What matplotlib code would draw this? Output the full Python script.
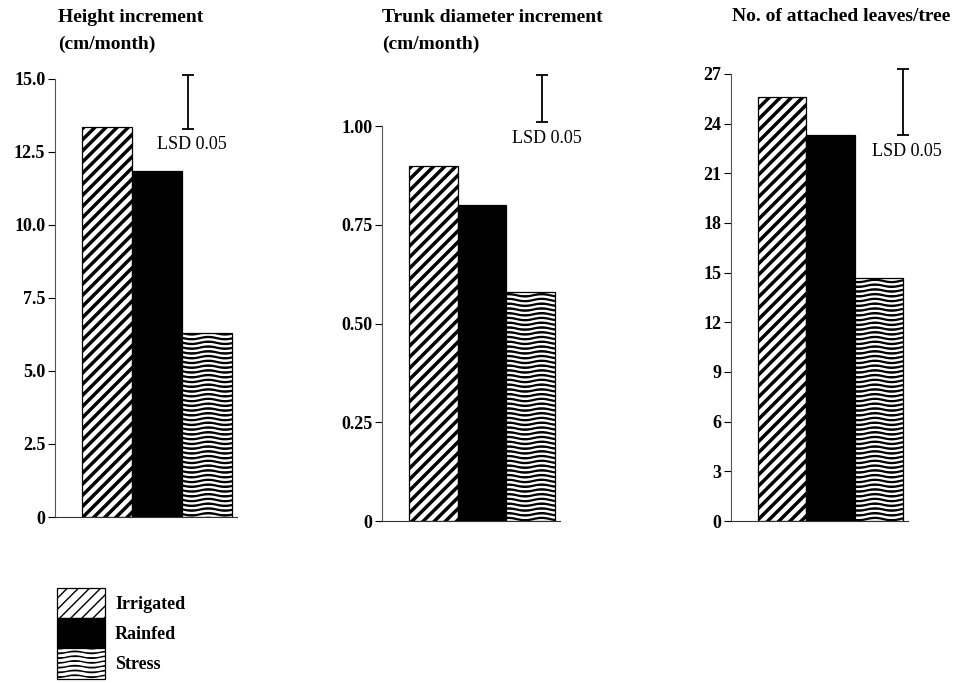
import warnings
import numpy as np
import matplotlib
matplotlib.use("Agg")
import matplotlib.pyplot as plt
from matplotlib import hatch as mhatch
from matplotlib.path import Path

warnings.filterwarnings("ignore", message=".*hatch must consist.*")

# ---------------------------------------------------------------- data
treatments = ["Irrigated", "Rainfed", "Stress"]

height_increment = [13.35, 11.85, 6.3]          # cm/month
trunk_increment = [0.90, 0.80, 0.58]            # cm/month
leaves_per_tree = [25.6, 23.3, 14.65]           # attached leaves/tree

panel_titles = ["Height increment\n(cm/month)",
                "Trunk diameter increment\n(cm/month)",
                "No. of attached leaves/tree"]

height_ticks = [0, 2.5, 5.0, 7.5, 10.0, 12.5, 15.0]
height_ticklabels = ["0", "2.5", "5.0", "7.5", "10.0", "12.5", "15.0"]
trunk_ticks = [0, 0.25, 0.50, 0.75, 1.00]
trunk_ticklabels = ["0", "0.25", "0.50", "0.75", "1.00"]
leaves_ticks = [0, 3, 6, 9, 12, 15, 18, 21, 24, 27]
leaves_ticklabels = ["0", "3", "6", "9", "12", "15", "18", "21", "24", "27"]

# least significant difference (P = 0.05) and the level where its bar starts
lsd_values = [1.85, 0.12, 4.0]
lsd_bottoms = [13.3, 1.01, 23.3]


# ------------------------------------------------- wavy hatch ('~')
class WaveHatch(mhatch.HatchPatternBase):
    """Horizontal wavy lines, selected with the '~' hatch character."""

    def __init__(self, hatch, density):
        self.num_lines = hatch.count("~") * 7
        self.num_steps = 40
        self.num_vertices = ((self.num_lines + 1) * self.num_steps
                             if self.num_lines else 0)

    def set_vertices_and_codes(self, vertices, codes):
        xs = np.linspace(0.0, 1.0, self.num_steps)
        k = 0
        for i in range(self.num_lines + 1):
            y0 = i / self.num_lines
            ys = y0 + 0.012 * np.sin(2 * np.pi * 3 * xs)
            vertices[k:k + self.num_steps, 0] = xs
            vertices[k:k + self.num_steps, 1] = ys
            codes[k] = Path.MOVETO
            codes[k + 1:k + self.num_steps] = Path.LINETO
            k += self.num_steps


mhatch._hatch_types.append(WaveHatch)

# ---------------------------------------------------------------- style
plt.rcParams["font.family"] = ["Liberation Serif", "DejaVu Serif"]
plt.rcParams["hatch.color"] = "black"

W, H = 963, 683
fig = plt.figure(figsize=(W / 100, H / 100), dpi=100)


def px_axes(left, right, bottom, top):
    return fig.add_axes([left / W, 1 - bottom / H,
                         (right - left) / W, (bottom - top) / H])


bar_styles = [
    dict(facecolor="white", hatch="///", hatch_lw=2.5),
    dict(facecolor="black", hatch=None, hatch_lw=1.0),
    dict(facecolor="white", hatch="~~~", hatch_lw=1.6),
]

panels = [
    dict(values=height_increment, ticks=height_ticks,
         labels=height_ticklabels, ylim=15.65, lsd_x=1.61,
         rect=(55, 237, 517, 60)),
    dict(values=trunk_increment, ticks=trunk_ticks,
         labels=trunk_ticklabels, ylim=1.168, lsd_x=2.24,
         rect=(382, 560, 521, 60)),
    dict(values=leaves_per_tree, ticks=leaves_ticks,
         labels=leaves_ticklabels, ylim=27.84, lsd_x=2.50,
         rect=(731, 908, 521, 60)),
]

legend_handles = None
x = np.arange(len(treatments))

for p, lsd, lsd_b in zip(panels, lsd_values, lsd_bottoms):
    ax = px_axes(*p["rect"])
    handles = []
    for xi, val, st, name in zip(x, p["values"], bar_styles, treatments):
        with plt.rc_context({"hatch.linewidth": st["hatch_lw"]}):
            b = ax.bar(xi, val, width=1.0, color=st["facecolor"],
                       edgecolor="black", linewidth=0.9,
                       hatch=st["hatch"], label=name)
        handles.append(b)
    if legend_handles is None:
        legend_handles = handles

    ax.set_xlim(-1.05, 2.6)
    ax.set_ylim(0, p["ylim"])
    ax.set_yticks(p["ticks"])
    ax.set_yticklabels(p["labels"], fontsize=13, fontweight="bold")
    ax.set_xticks([])
    ax.tick_params(axis="y", direction="out", length=5, width=0.8,
                   pad=2, colors="black")
    for side in ("top", "right"):
        ax.spines[side].set_visible(False)
    ax.spines["left"].set_bounds(0, p["ticks"][-1])
    ax.spines["left"].set_color("#555555")
    ax.spines["left"].set_linewidth(0.8)
    ax.spines["bottom"].set_color("#333333")
    ax.spines["bottom"].set_linewidth(0.8)

    # LSD bar
    ax.errorbar([p["lsd_x"]], [lsd_b + lsd / 2], yerr=[lsd / 2],
                fmt="none", ecolor="black", elinewidth=1.3,
                capsize=4.3, capthick=1.3)
    ax.annotate("LSD 0.05", xy=(p["lsd_x"], lsd_b),
                xytext=(4, -16), textcoords="offset pixels",
                ha="center", va="center", fontsize=13)

# panel titles
title_pos = [(58, 9), (382, 9), (732, 8)]
for (tx, ty), title in zip(title_pos, panel_titles):
    fig.text(tx / W, 1 - ty / H, title, ha="left", va="top",
             fontsize=14, fontweight="bold", linespacing=1.7)

# legend: stacked swatches touching each other
fs = 13
fig.legend(handles=[h[0] for h in legend_handles], labels=treatments,
           loc="upper left", bbox_to_anchor=(57 / W, 1 - 588 / H),
           frameon=False, prop={"weight": "bold", "size": fs},
           handlelength=2.67, handleheight=2.2, labelspacing=0,
           handletextpad=0.55, borderpad=0, borderaxespad=0)

fig.savefig("out.png", dpi=100)
